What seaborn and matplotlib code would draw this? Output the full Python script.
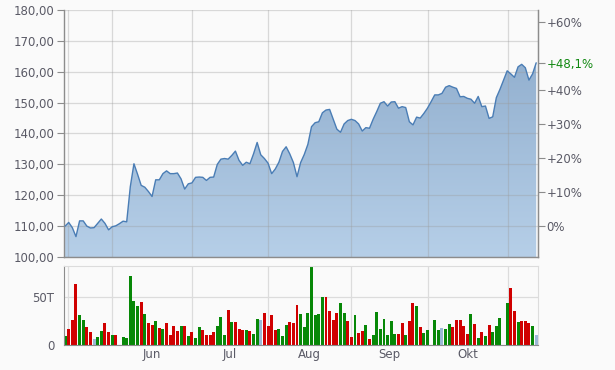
import numpy as np
import pandas as pd
import matplotlib
matplotlib.use("Agg")
import matplotlib.pyplot as plt
import seaborn as sns
from matplotlib.colors import LinearSegmentedColormap
from matplotlib.patches import Polygon

# ---------------- data ----------------
price = [110.0, 111.2, 109.5, 106.6, 111.7, 111.7, 110.0, 109.4, 109.5, 110.9,
         112.3, 110.9, 108.8, 109.8, 110.1, 110.8, 111.6, 111.4, 122.8, 130.2,
         126.8, 123.2, 122.6, 121.2, 119.6, 125.0, 125.0, 127.0, 127.9, 127.0,
         127.0, 127.2, 125.3, 122.0, 123.7, 124.0, 125.8, 125.9, 125.8, 124.8,
         125.8, 125.9, 130.0, 131.7, 131.9, 131.7, 132.9, 134.3, 131.3, 129.7,
         130.7, 130.2, 133.4, 137.1, 133.1, 131.9, 130.4, 127.0, 128.5, 130.7,
         134.2, 135.7, 133.4, 130.6, 126.0, 130.6, 133.2, 136.5, 142.2, 143.5,
         143.8, 146.7, 147.6, 147.8, 144.6, 141.4, 140.4, 143.1, 144.2, 144.6,
         144.2, 143.1, 140.8, 141.9, 141.7, 144.6, 147.1, 149.8, 150.3, 148.9,
         150.2, 150.3, 148.2, 148.7, 148.4, 143.8, 142.8, 145.3, 145.0, 146.5,
         148.2, 150.3, 152.5, 152.5, 153.0, 155.0, 155.5, 155.0, 154.6, 151.9,
         152.0, 151.4, 151.1, 149.8, 152.0, 148.7, 148.9, 144.9, 145.4, 151.6,
         154.3, 157.3, 160.3, 159.3, 158.2, 161.6, 162.4, 161.3, 157.3, 159.3,
         162.9]

volume = [9.3, 16.5, 26, 63, 31, 26, 18.6, 13.4, 6.2, 8.3,
          14.5, 22.8, 13.4, 10.3, 10.3, 0, 8.3, 7.2, 71.4, 45.5,
          40.3, 44.5, 32, 22.8, 20.7, 24.8, 17.6, 16.5, 22.8, 10.3,
          19.7, 14.5, 19.7, 19.7, 9.3, 13.4, 7.2, 18.6, 15.5, 10.3,
          10.3, 13.4, 19.7, 29, 10.3, 36.2, 23.8, 23.8, 16.5, 15.5,
          15.5, 14.5, 11.4, 26.9, 26, 33, 19.7, 31, 15.5, 16.5,
          9.3, 20.7, 23.8, 22.8, 41.4, 32, 18.6, 33, 80.7, 31,
          32, 49.7, 49.7, 35.2, 26, 33, 43.4, 33, 24.8, 8.3,
          31, 12.4, 14.5, 20.7, 6.2, 10.3, 34.1, 16.5, 26.9, 10.3,
          24.8, 11.4, 11.4, 22.8, 10.3, 24.8, 43.4, 40.3, 18.6, 12.4,
          15.5, 0, 26, 15.5, 17.6, 16.5, 21.7, 18.6, 26, 26,
          19.7, 11.4, 32, 21.7, 7.2, 13.4, 9.3, 20.7, 13.4, 19.7,
          27.9, 0, 43.4, 59, 35.2, 23.8, 24.8, 24.8, 22.8, 19.7,
          10.3]

direction = list("grrrggrrbg" "grrgr-gggg" "grgrrgrgrr"
                 "rrgrgrggrr" "rrgggrgrrr" "grggbrrrrg"
                 "ggrrrgggg" "g" "ggrrrrggrr" "grrgrgggggg"
                 "grrgrrgrg" "g-ggbggrrr" "rrgrgrgrgg" "g-grrgrrrg" "b")

month_starts = [0.8, 13, 35, 56, 79, 100.2, 122.3]
month_labels = ["Jun", "Jul", "Aug", "Sep", "Okt"]
month_label_pos = [24, 45.5, 67.5, 89.6, 111]

base_price = 110.0
pct_ticks = [0, 10, 20, 30, 40, 60]
price_ticks = [100, 110, 120, 130, 140, 150, 160, 170, 180]

# ---------------- style ----------------
sns.set_style("white")
plt.rcParams['font.family'] = ['DejaVu Sans']
TXT = '#5a5a66'
GRID = '#dcdcdc'
BG = '#fafafa'
SPINE = '#8c8c8c'

n = len(price)
slots = np.arange(n)
df_p = pd.DataFrame({'slot': slots, 'price': price})

fig = plt.figure(figsize=(6.15, 3.70), dpi=100, facecolor=BG)
ax = fig.add_axes([64/615, 1-257/370, (538-64)/615, (257-10)/370])
axv = fig.add_axes([64/615, 1-345/370, (538-64)/615, (345-266)/370])
for a in (ax, axv):
    a.set_facecolor(BG)

xlim = (-0.3, 130.5)

# gradient area fill
verts = np.column_stack([np.r_[slots, slots[::-1]],
                         np.r_[price, np.full(n, 100.0)]])
patch = Polygon(verts, closed=True, fc='none', ec='none')
ax.add_patch(patch)
cmap = LinearSegmentedColormap.from_list('g', ['#8dabcb', '#b6cfe8'])
im = ax.imshow(np.linspace(0, 1, 256).reshape(-1, 1), cmap=cmap, aspect='auto',
               extent=[xlim[0], xlim[1], 100, 175], origin='upper', zorder=0.5)
im.set_clip_path(patch)

sns.lineplot(data=df_p, x='slot', y='price', ax=ax, color='#4a7db5', lw=1.0, zorder=3)

ax.set_xlim(*xlim)
ax.set_ylim(100, 180)
ax.set_yticks(price_ticks)
ax.set_yticklabels([f"{v:.2f}".replace('.', ',') for v in price_ticks])
ax.set_xticks(month_starts)
ax.set_xticklabels([])
ax.tick_params(axis='x', length=0)
ax.tick_params(axis='y', length=5, color=SPINE, labelcolor=TXT, labelsize=8.5, pad=2, width=0.8)
ax.grid(True, color='#9a9a9a', alpha=0.35, lw=0.9)
ax.set_xlabel('')
ax.set_ylabel('')
ax.spines['top'].set_visible(False)
for s in ['left', 'right', 'bottom']:
    ax.spines[s].set_color(SPINE)
    ax.spines[s].set_linewidth(1.0)

# right percent axis
ax2 = ax.twinx()
ax2.set_ylim(100, 180)
rt = [base_price * (1 + p / 100) for p in pct_ticks] + [price[-1]]
rl = [("+" if p > 0 else "") + f"{p}%" for p in pct_ticks]
last_pct = (price[-1] / base_price - 1) * 100
rl.append(f"+{last_pct:.1f}%".replace('.', ','))
ax2.set_yticks(rt)
ax2.set_yticklabels(rl)
ax2.tick_params(axis='y', length=5, color=SPINE, labelcolor=TXT, labelsize=8.5, pad=1, width=0.8)
ax2.get_yticklabels()[-1].set_color('#118811')
for s in ['top', 'left', 'bottom']:
    ax2.spines[s].set_visible(False)
ax2.spines['right'].set_color(SPINE)
ax2.grid(False)

# volume bars (categorical positions == trading-day slots)
df_v = pd.DataFrame({'slot': slots, 'vol': volume, 'dir': direction[:n]})
pal = {'g': '#078807', 'r': '#d00000', 'b': '#9bb8d6'}
for key, col in pal.items():
    sub = df_v[df_v['dir'] == key]
    sns.barplot(data=sub, x='slot', y='vol', order=list(slots), color=col,
                width=0.82, saturation=1, errorbar=None, ax=axv, zorder=2,
                linewidth=0)
axv.set_xlim(*xlim)
axv.set_ylim(0, 81.8)
axv.set_yticks([0, 50])
axv.set_yticklabels(["0", "50T"])
axv.set_xticks(month_starts, minor=True)
axv.set_xticks(month_label_pos)
axv.set_xticklabels(month_labels)
axv.tick_params(axis='x', which='both', length=0, labelcolor=TXT, labelsize=8.5, pad=2)
axv.tick_params(axis='y', length=5, color=SPINE, labelcolor=TXT, labelsize=8.5, pad=2, width=0.8)
axv.grid(False)
axv.grid(True, which='minor', axis='x', color=GRID, lw=0.9)
axv.grid(True, which='major', axis='y', color=GRID, lw=0.9)
axv.set_axisbelow(True)
axv.set_xlabel('')
axv.set_ylabel('')
axv.spines['left'].set_color(SPINE)
axv.spines['bottom'].set_color(SPINE)
axv.spines['top'].set_color(GRID)
axv.spines['right'].set_color(GRID)

fig.savefig("out.png", dpi=100, facecolor=BG)
